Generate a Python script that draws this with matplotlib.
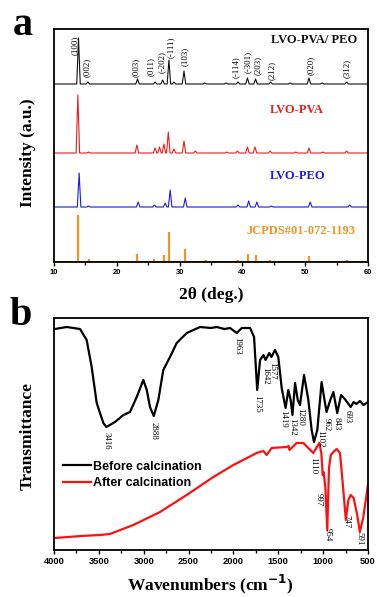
import numpy as np
import matplotlib
matplotlib.use('Agg')
import matplotlib.pyplot as plt
from matplotlib.ticker import MultipleLocator

SERIF = ['Liberation Serif', 'DejaVu Serif']
SANS = ['Liberation Sans', 'DejaVu Sans']

# ---------------- XRD data (2theta in deg, peak heights in a.u.) ----------------
pvapeo_pos = [13.9, 15.4, 23.3, 26.1, 27.3, 28.3, 29.1, 30.7, 34.0, 37.4, 39.3, 40.8, 42.1, 44.5, 47.6, 50.6, 52.7, 56.6]
pvapeo_int = [46, 2, 5, 2, 4, 24, 2, 13, 1, 1, 2, 6, 5, 2, 1, 6, 1, 2]
pva_pos = [13.8, 15.5, 23.2, 26.1, 26.8, 27.5, 28.2, 29.1, 30.7, 32.5, 37.5, 39.2, 40.8, 42.0, 44.4, 48.5, 50.6, 52.8, 56.6]
pva_int = [58, 1, 8, 5, 6, 9, 21, 4, 12, 2, 1, 2, 6, 6, 2, 1, 5, 1, 2]
peo_pos = [14.0, 15.5, 23.4, 26.0, 27.7, 28.5, 30.9, 39.3, 41.0, 42.3, 44.6, 50.8, 57.1]
peo_int = [34, 1, 5, 2, 4, 17, 9, 2, 6, 5, 1, 5, 2]
ref_pos = [13.9, 15.5, 23.2, 26.0, 27.5, 28.3, 30.8, 34.2, 39.3, 40.9, 42.1, 44.4, 48.3, 50.6, 52.8, 56.7]
ref_int = [47, 3, 8, 3, 7, 30, 13, 2, 2, 8, 7, 2, 1, 6, 1, 2]

hkl_labels = ['(100)', '(002)', '(003)', '(011)', '(-202)', '(-111)', '(103)',
              '(-114)', '(-301)', '(203)', '(212)', '(020)', '(312)']
hkl_angles = [13.3, 15.3, 23.1, 25.4, 27.1, 28.6, 30.9, 39.0, 40.8, 42.4, 44.7, 50.9, 56.6]

xrd_ticks = [10, 20, 30, 40, 50, 60]

# ---------------- FTIR data ----------------
before_wn = [3990, 3858, 3710, 3636, 3580, 3524, 3450, 3416, 3320, 3227, 3153, 3078, 3004, 2966,
             2930, 2888, 2837, 2782, 2707, 2632, 2521, 2372, 2250, 2186, 2100, 2038, 1963, 1907,
             1815, 1770, 1735, 1703, 1666, 1642, 1600, 1577, 1536, 1500, 1462, 1419, 1388, 1362,
             1342, 1313, 1283, 1258, 1213, 1165, 1128, 1102, 1065, 1017, 985, 962, 920, 886, 843,
             800, 750, 693, 660, 630, 590, 550, 500]
before_t = [221, 223, 221, 210, 183, 147, 127, 123, 128, 135, 138, 153, 170, 160,
            143, 134, 150, 180, 193, 207, 217, 223, 222, 223, 221, 222, 217, 222,
            222, 213, 160, 190, 195, 190, 197, 193, 200, 193, 162, 142, 160, 150,
            135, 167, 150, 145, 175, 150, 120, 108, 120, 168, 150, 138, 150, 158, 137,
            155, 150, 143, 148, 146, 149, 145, 148]

after_wn = [3990, 3700, 3487, 3376, 3116, 2818, 2521, 2224, 2001, 1741, 1666, 1630, 1574, 1407,
            1385, 1375, 1296, 1221, 1110, 1043, 1020, 1005, 995, 975, 954, 935, 915, 886, 849,
            812, 775, 747, 719, 692, 660, 620, 591, 552, 514, 500]
after_t = [12, 14, 15, 16, 25, 38, 55, 73, 85, 97, 99, 95, 102, 103,
           104, 100, 107, 107, 97, 107, 97, 75, 78, 62, 20, 82, 95, 98, 101,
           97, 60, 30, 50, 55, 52, 35, 18, 33, 57, 65]

before_labels = ['3416', '2888', '1963', '1735', '1642', '1577', '1419', '1342', '1280',
                 '1102', '962', '843', '693']
before_label_wn = [3409, 2885, 1960, 1737, 1648, 1570, 1447, 1347, 1258, 1035, 957, 845, 722]
after_labels = ['1110', '997', '954', '747', '591']
after_label_wn = [1113, 1046, 946, 745, 600]

ftir_ticks = [4000, 3500, 3000, 2500, 2000, 1500, 1000, 500]


def peak_profile(pos, inten, hw=0.28):
    xs, ys = [10.0], [0.0]
    for p, h in sorted(zip(pos, inten)):
        xs += [p - hw, p, p + hw]
        ys += [0.0, h, 0.0]
    xs.append(60.0)
    ys.append(0.0)
    return np.array(xs), np.array(ys)


fig = plt.figure(figsize=(3.77, 5.97), dpi=100)

# ================= Panel a =================
axa = fig.add_axes([54 / 377, 1 - 262 / 597, 314 / 377, 233 / 597])
axa.set_xlim(10, 60)
axa.set_ylim(0, 233)

c_black, c_red, c_blue, c_orange = '#111111', '#ee1c1c', '#1c1ce0', '#f39226'

for pos, inten, off, col in [(pvapeo_pos, pvapeo_int, 178, c_black),
                             (pva_pos, pva_int, 109, c_red),
                             (peo_pos, peo_int, 55, c_blue)]:
    x, y = peak_profile(pos, inten)
    axa.plot(x, y + off, color=col, lw=0.8)

axa.vlines(ref_pos, 0, ref_int, color=c_orange, lw=1.6)
axa.axhline(0.6, color=c_orange, lw=0.8)

hkl_bottoms = [207, 185, 185, 186, 189, 204, 196, 184, 189, 187, 182, 187, 184]
for lab, xx, yb in zip(hkl_labels, hkl_angles, hkl_bottoms):
    axa.text(xx, yb, lab, rotation=90, ha='center', va='bottom', fontsize=6.3,
             family=SERIF)

axa.text(58.25, 222, 'LVO-PVA/ PEO', ha='right', va='center', fontsize=9,
         fontweight='bold', family=SERIF, color=c_black)
axa.text(48.7, 152, 'LVO-PVA', ha='center', va='center', fontsize=9,
         fontweight='bold', family=SERIF, color=c_red)
axa.text(48.85, 86, 'LVO-PEO', ha='center', va='center', fontsize=9,
         fontweight='bold', family=SERIF, color=c_blue)
axa.text(49.4, 31.5, 'JCPDS#01-072-1193', ha='center', va='center', fontsize=9,
         fontweight='bold', family=SERIF, color=c_orange)

axa.set_xticks(xrd_ticks)
axa.xaxis.set_minor_locator(MultipleLocator(5))
axa.set_yticks([])
axa.tick_params(axis='x', which='major', direction='out', length=3, width=1, pad=2,
                labelsize=5.5)
axa.tick_params(axis='x', which='minor', direction='out', length=2, width=1)
for lab in axa.get_xticklabels():
    lab.set_family(SANS)
    lab.set_fontweight('bold')
for sp in axa.spines.values():
    sp.set_linewidth(1.3)

# ================= Panel b =================
axb = fig.add_axes([54 / 377, 1 - 550 / 597, 314 / 377, 232 / 597])
axb.set_xlim(4000, 500)
axb.set_ylim(0, 232)

lb, = axb.plot(before_wn, before_t, color='black', lw=1.6, label='Before calcination')
lr, = axb.plot(after_wn, after_t, color='#ff1010', lw=1.6, label='After calcination')

before_tops = [118, 128, 213, 155, 183, 188, 140, 132, 142, 120, 132, 133, 140]
for lab, xx, yt in zip(before_labels, before_label_wn, before_tops):
    axb.text(xx, yt, lab, rotation=-90, ha='center', va='top', fontsize=6.3, family=SERIF)
after_tops = [93, 57, 22, 35, 18]
for lab, xx, yt in zip(after_labels, after_label_wn, after_tops):
    axb.text(xx, yt, lab, rotation=-90, ha='center', va='top', fontsize=6.3, family=SERIF)

axb.legend(handles=[lb, lr], loc='upper left', bbox_to_anchor=(0.029, 0.385),
           frameon=False, borderpad=0, borderaxespad=0, handlelength=2.2,
           handletextpad=0.2, labelspacing=0.35,
           prop={'family': SANS, 'weight': 'bold', 'size': 9})

axb.set_xticks(ftir_ticks)
axb.xaxis.set_minor_locator(MultipleLocator(250))
axb.set_yticks([])
axb.tick_params(axis='x', which='major', direction='out', length=3, width=1, pad=2,
                labelsize=6.7)
axb.tick_params(axis='x', which='minor', direction='out', length=2, width=1)
for lab in axb.get_xticklabels():
    lab.set_family(SANS)
    lab.set_fontweight('bold')
for sp in axb.spines.values():
    sp.set_linewidth(1.3)

# ================= labels =================
fig.text(28 / 377, 1 - 152.5 / 597, 'Intensity (a.u.)', rotation=90, ha='center',
         va='center', fontsize=12.5, fontweight='bold', family=SERIF)
fig.text(211 / 377, 1 - 295 / 597, '2θ (deg.)', ha='center', va='center',
         fontsize=12.5, fontweight='bold', family=SERIF)
fig.text(28 / 377, 1 - 436 / 597, 'Transmittance', rotation=90, ha='center',
         va='center', fontsize=12.5, fontweight='bold', family=SERIF)
fig.text(210 / 377, 1 - 590 / 597, 'Wavenumbers (cm$^{\\mathbf{-1}}$)', ha='center',
         va='baseline', fontsize=12.5, fontweight='bold', family=SERIF)

fig.text(13 / 377, 1 - 35 / 597, 'a', ha='left', va='baseline', fontsize=29,
         fontweight='bold', family=SERIF)
fig.text(10 / 377, 1 - 325 / 597, 'b', ha='left', va='baseline', fontsize=29,
         fontweight='bold', family=SERIF)

fig.savefig('out.png', dpi=100)
